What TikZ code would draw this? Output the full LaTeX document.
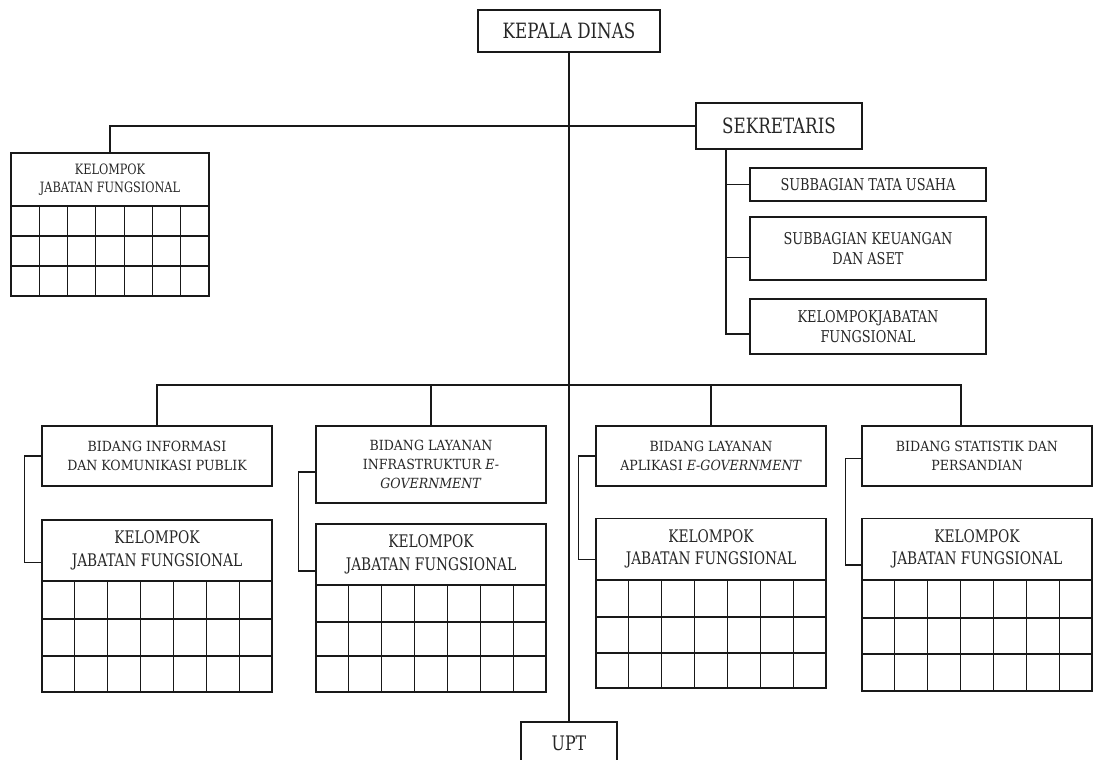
\documentclass[tikz,border=0pt]{standalone}
\usepackage{fontspec}
\setmainfont{DejaVu Serif Condensed}[FakeStretch=0.88]
\newfontfamily\bidfont{DejaVu Serif Condensed}
\begin{document}
\begin{tikzpicture}[x=0.75pt,y=0.75pt,yscale=-1,xscale=1,
		line width=0.9pt,
		unit/.style={draw=black!90, align=center, inner sep=0pt, text=black!85},
		headunit/.style={unit, font=\fontsize{15.8}{19}\selectfont},
		subunit/.style={unit, minimum width=177pt, font=\fontsize{12.2}{14.5}\selectfont},
		bidunit/.style={unit, minimum width=172.5pt, minimum height=45pt, font=\bidfont\fontsize{10.5}{14.5}\selectfont},
		kjfunit/.style={unit, minimum width=172.5pt, minimum height=45.75pt, font=\fontsize{13}{17}\selectfont}]
	\useasboundingbox (0,0) rectangle (1101,760);
	
	% Top level
	\node [headunit, minimum width=136.5pt, minimum height=31.5pt] (kepala) at (569,31) {KEPALA DINAS};
	\node [headunit, minimum width=124.5pt, minimum height=34.5pt] (sekr) at (779,126) {SEKRETARIS};
	\node [headunit, minimum width=72pt, minimum height=31.5pt, font=\fontsize{15}{18}\selectfont] (upt) at (569,743) {UPT};
	
	% Sekretariat
	\node [subunit, minimum height=24.75pt] (tu) at (868,184.5) {SUBBAGIAN TATA USAHA};
	\node [subunit, minimum height=47.25pt] (keu) at (868,248.5) {SUBBAGIAN KEUANGAN\\DAN ASET};
	\node [subunit, minimum height=41.25pt] (kj) at (868,326.5) {KELOMPOKJABATAN\\FUNGSIONAL};
	
	% Kelompok jabatan fungsional (kiri atas)
	\node [unit, minimum width=148.5pt, minimum height=39.75pt, font=\fontsize{10.7}{13.5}\selectfont] (kjf0) at (110,179.5) {KELOMPOK\\JABATAN FUNGSIONAL};
	
	% Bidang
	\node [bidunit] (b1) at (157,456) {BIDANG INFORMASI\\DAN KOMUNIKASI PUBLIK};
	\node [bidunit, minimum height=57.75pt] (b2) at (431,464.5) {BIDANG LAYANAN\\INFRASTRUKTUR \textit{E-}\\\textit{GOVERNMENT}};
	\node [bidunit] (b3) at (711,456) {BIDANG LAYANAN\\APLIKASI \textit{E-GOVERNMENT}};
	\node [bidunit] (b4) at (977,456) {BIDANG STATISTIK DAN\\PERSANDIAN};
	
	% Kelompok jabatan fungsional per bidang
	\node [kjfunit] (kjf1) at (157,550.5) {KELOMPOK\\JABATAN FUNGSIONAL};
	\node [kjfunit] (kjf2) at (431,554.5) {KELOMPOK\\JABATAN FUNGSIONAL};
	\node [kjfunit] (kjf3) at (711,549) {KELOMPOK\\JABATAN FUNGSIONAL};
	\node [kjfunit] (kjf4) at (977,549) {KELOMPOK\\JABATAN FUNGSIONAL};
	
	% Tables below the headers
	\foreach \xl/\w/\yt/\yb/\ra/\rb in {11/198/206/296/236/266, 42/230/581/692/619/656, 316/230/585/692/622/656, 596/230/580/688/617/653, 862/230/580/691/618/654} {
		\draw [black!90] (\xl,\yt) rectangle ++(\w,{\yb-\yt});
		\draw [black!90] (\xl,\ra) -- ++(\w,0) (\xl,\rb) -- ++(\w,0);
		\foreach \c in {1,...,6}
			\draw [black!90] ({\xl+\c*\w/7},\yt) -- ++(0,{\yb-\yt});
	}
	
	% Connectors
	\coordinate (sbus) at (726,149);
	\coordinate (bbus) at (569,385);
	\coordinate (keuin) at ([yshift=7pt]keu.west);
	\coordinate (kjin) at ([yshift=5.6pt]kj.west);
	\draw [black!90] (kepala.south) -- (upt.north);
	\draw [black!90] (kjf0.north) |- (sekr.west);
	\draw [black!90] (sbus) |- (kjin);
	\draw [black!90] (sbus |- tu.west) -- (tu.west);
	\draw [black!90] (sbus |- keuin) -- (keuin);
	\draw [black!90] (b1.north) |- (bbus) -| ([xshift=-12pt]b4.north);
	\draw [black!90] (b2.north) -- (b2.north |- bbus);
	\draw [black!90] (b3.north) -- (b3.north |- bbus);
	\draw [black!90] (b1.west) -- ++(-17,0) |- ([yshift=9pt]kjf1.west);
	\draw [black!90] ([yshift=5.6pt]b2.west) -- ++(-17,0) |- ([yshift=12.4pt]kjf2.west);
	\draw [black!90] (b3.west) -- ++(-17,0) |- ([yshift=8pt]kjf3.west);
	\draw [black!90] ([yshift=2pt]b4.west) -- ++(-16,0) |- ([yshift=12pt]kjf4.west);
	
\end{tikzpicture}
\end{document}
